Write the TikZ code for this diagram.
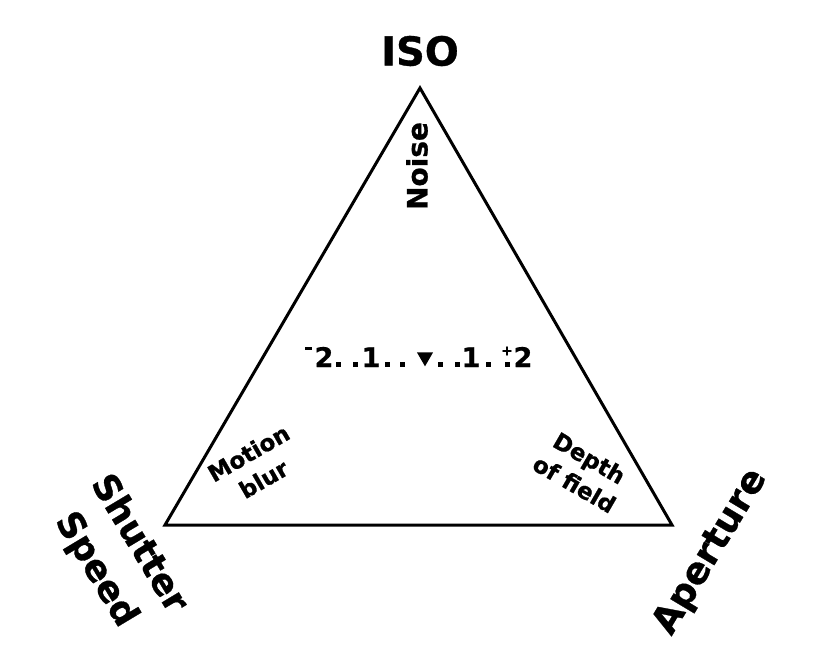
\documentclass[tikz,border=0pt]{standalone}
\usepackage{fontspec}
\usetikzlibrary{shapes.geometric}
\setmainfont{DejaVu Sans}[BoldFont={DejaVu Sans Bold}, BoldFeatures={FakeBold=0.8}]
\begin{document}
\begin{tikzpicture}[x=1pt,y=-1pt,
  lbl/.style={inner sep=0pt, align=center},
  tick/.style={fill=black, minimum size=5pt, inner sep=0pt, draw=none, rectangle}]
\useasboundingbox (0,0) rectangle (819,671);
\coordinate (top) at (420,88);
\coordinate (bl) at (165,525);
\coordinate (br) at (672,525);
\draw[line width=3pt, line join=miter] (top) -- (bl) -- (br) -- cycle;
\node[lbl, font=\fontsize{40}{44}\bfseries\selectfont] (iso) at (420,51) {ISO};
\node[lbl, font=\fontsize{28}{32}\bfseries\selectfont, rotate=90] (noise) at (417,166) {Noise};
\node[lbl, font=\fontsize{36}{50}\bfseries\selectfont, rotate=-59] (shutter) at (117,557) {Shutter\\Speed};
\node[lbl, font=\fontsize{37}{44}\bfseries\selectfont, rotate=59] (aperture) at (711,552) {Aperture};
\node[lbl, font=\fontsize{23}{30}\bfseries\selectfont, rotate=30] (motion) at (256,466) {Motion\\blur};
\node[lbl, font=\fontsize{23}{30}\bfseries\selectfont, rotate=-30] (depth) at (582,471) {Depth\\of field};
% exposure scale
\node[lbl, anchor=base, font=\fontsize{27}{30}\bfseries\selectfont] (m2) at (324,367) {2};
\node[lbl, anchor=base, font=\fontsize{27}{30}\bfseries\selectfont] (m1) at (371,367) {1};
\node[lbl, anchor=base, font=\fontsize{27}{30}\bfseries\selectfont] (p1) at (471,367) {1};
\node[lbl, anchor=base, font=\fontsize{27}{30}\bfseries\selectfont] (p2) at (523,367) {2};
\node[fill=black, minimum width=7pt, minimum height=3pt, inner sep=0pt] (minus) at (308,348) {};
\node[tick] (d1) at (338,364) {};
\node[tick] (d2) at (355,364) {};
\node[tick] (d3) at (387,364) {};
\node[tick] (d4) at (402,364) {};
\node[tick] (d5) at (440,364) {};
\node[tick] (d6) at (457,364) {};
\node[tick] (d7) at (488,364) {};
\node[tick] (d8) at (507,364) {};
\node[font=\fontsize{14}{14}\bfseries\selectfont, inner sep=0pt] (plus) at (507,351) {+};
\node[isosceles triangle, isosceles triangle apex angle=60, shape border rotate=-90, fill=black, inner sep=0pt, minimum height=14pt, minimum width=14pt] (mark) at (425,357) {};
\end{tikzpicture}
\end{document}
